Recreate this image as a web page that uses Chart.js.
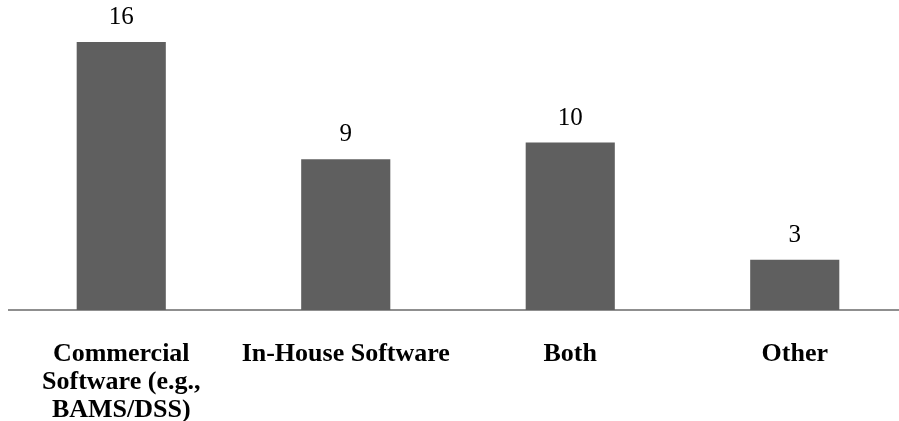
<!DOCTYPE html>
<html>
<head>
<meta charset="utf-8">
<script src="https://cdn.jsdelivr.net/npm/chart.js@4/dist/chart.umd.min.js"></script>
<style>
  html, body { margin: 0; padding: 0; background: #fff; overflow: hidden; }
  #wrap { position: relative; width: 907px; height: 421px; }
</style>
</head>
<body>
<div id="wrap"><canvas id="softwareChart"></canvas></div>
<script>
// Categories and counts
const categories = [
    ['Commercial', 'Software (e.g.,', 'BAMS/DSS)'],
    'In-House Software',
    'Both',
    'Other'
];
const counts = [16, 9, 10, 3];

// Draw the value above each bar
const valueLabels = {
    id: 'valueLabels',
    afterDatasetsDraw(chart) {
        const ctx = chart.ctx;
        const meta = chart.getDatasetMeta(0);
        ctx.save();
        ctx.font = '25px "Liberation Serif", "Times New Roman", serif';
        ctx.fillStyle = '#000';
        ctx.textAlign = 'center';
        ctx.textBaseline = 'alphabetic';
        meta.data.forEach((bar, i) => {
            ctx.fillText(String(counts[i]), bar.x, bar.y - 18);
        });
        ctx.restore();
    }
};

const config = {
    type: 'bar',
    data: {
        labels: categories,
        datasets: [{
            data: counts,
            backgroundColor: '#5f5f5f',
            borderWidth: 0,
            barPercentage: 0.397,
            categoryPercentage: 1
        }]
    },
    options: {
        responsive: true,
        maintainAspectRatio: false,
        animation: false,
        layout: { padding: { top: 42, left: 9, right: 0, bottom: 0 } },
        plugins: {
            legend: { display: false },
            tooltip: { enabled: false }
        },
        scales: {
            y: {
                display: false,
                min: 0,
                max: 16
            },
            x: {
                grid: { display: false },
                border: { display: true, color: '#8f8f8f', width: 2 },
                ticks: {
                    color: '#000',
                    padding: 22,
                    maxRotation: 0,
                    autoSkip: false,
                    font: {
                        family: '"Liberation Serif", "Times New Roman", serif',
                        size: 26,
                        weight: 'bold',
                        lineHeight: 1.077
                    }
                },
                afterFit(scale) { scale.height = 111; }
            }
        }
    },
    plugins: [valueLabels]
};

const softwareChart = new Chart(document.getElementById('softwareChart'), config);
</script>
</body>
</html>
